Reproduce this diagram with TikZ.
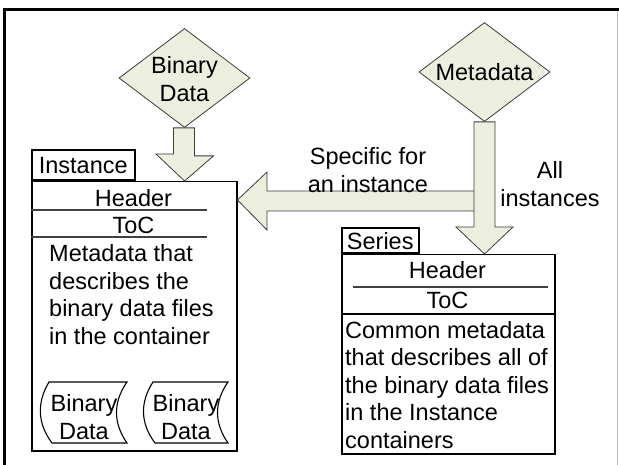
\documentclass[tikz,border=0pt]{standalone}
\usepackage{fontspec}
\setmainfont{Liberation Sans}
\usetikzlibrary{shapes.geometric,calc}
\definecolor{pale}{RGB}{236,238,222}
\definecolor{edge}{RGB}{60,60,60}
\begin{document}
\begin{tikzpicture}[x=1pt,y=-1pt,
  every node/.style={font=\fontsize{23.5}{27.5}\selectfont, inner sep=0pt},
  diam/.style={diamond, draw=edge, fill=pale, line width=0.8pt, minimum width=131pt, minimum height=99pt},
  blockarrow/.style={draw=edge, fill=pale, line width=0.8pt, line join=miter},
  box/.style={draw=black, line width=1.5pt, fill=white},
  tape/.style={draw=black, line width=1.1pt, fill=white},
  sepline/.style={draw=black!75, line width=1.2pt}]
\useasboundingbox (0,0) rectangle (619,465);
% frame
\draw[line width=3pt, line cap=rect] (4,465) -- (4,10) -- (617,10);
\draw[black!25, line width=1pt] (617,11.5) -- (617,465);

% diamonds
\node[diam] (bd) at (184.5,78) {};
\node[align=center] (bdt) at (184.5,79) {Binary\\Data};
\node[diam] (md) at (484.5,72) {};
\node (mdt) at (484.5,72) {Metadata};

% Instance container
\node[box, anchor=north west, minimum width=205pt, minimum height=269pt] (inst) at (31,181) {};
\node[box, anchor=south west, minimum width=103pt, minimum height=30pt] (insttab) at (inst.north west) {};
\node (insttabt) at (insttab.center) {Instance};
\node (ihead) at (133.5,198) {Header};
\draw[sepline] (31,210) -- (207,210);
\node (itoc) at (133.5,225) {ToC};
\draw[sepline] (31,237) -- (207,237);
\node[anchor=north west, align=left] (itext) at (49,244.5) {Metadata that\\describes the\\binary data files\\in the container};

% tapes
\draw[tape] (49,382) -- (127,382) .. controls (113,402) and (113,423) .. (127,443) -- (52,443) .. controls (37,423) and (37,402) .. (49,382) -- cycle;
\node[align=center] (tape1) at (84,417) {Binary\\Data};
\draw[tape] (153,382) -- (228,382) .. controls (214,402) and (214,423) .. (228,443) -- (155,443) .. controls (140,423) and (140,402) .. (153,382) -- cycle;
\node[align=center] (tape2) at (186,417) {Binary\\Data};

% Series container
\node[box, anchor=north west, minimum width=213pt, minimum height=199pt] (ser) at (341,254) {};
\node[box, anchor=south west, minimum width=77pt, minimum height=25pt] (sertab) at (ser.north west) {};
\node (sertabt) at (sertab.center) {Series};
\node (shead) at (447.5,270) {Header};
\draw[sepline] (353,287) -- (548,287);
\node (stoc) at (447.5,300) {ToC};
\draw[line width=1.5pt] (341,314) -- (554,314);
\node[anchor=north west, align=left] (stext) at (345,321) {Common metadata\\that describes all of\\the binary data files\\in the Instance\\containers};

% block arrows
\draw[blockarrow] ($(bd.south)+(-11,0)$) -- ($(bd.south)+(10,0)$) -- ++(0,28) -- ++(19,0) -- (inst.north -| bd.south) -- ++(-28.5,-27) -- ++(17.5,0) -- cycle;
\draw[blockarrow] (inst.east |- 0,200) -- (267,172) -- (267,191) -- (475,191) -- (475,211) -- (267,211) -- (267,230) -- cycle;
\draw[blockarrow] ($(md.south)+(-10.5,0)$) -- ($(md.south)+(10.5,0)$) -- (495,227) -- (513,227) -- (ser.north -| md.south) -- (456,227) -- (474,227) -- cycle;

% labels
\node[align=center] (lspec) at (368,170) {Specific for\\an instance};
\node[align=center] (lall) at (550,184) {All\\instances};
\end{tikzpicture}
\end{document}
